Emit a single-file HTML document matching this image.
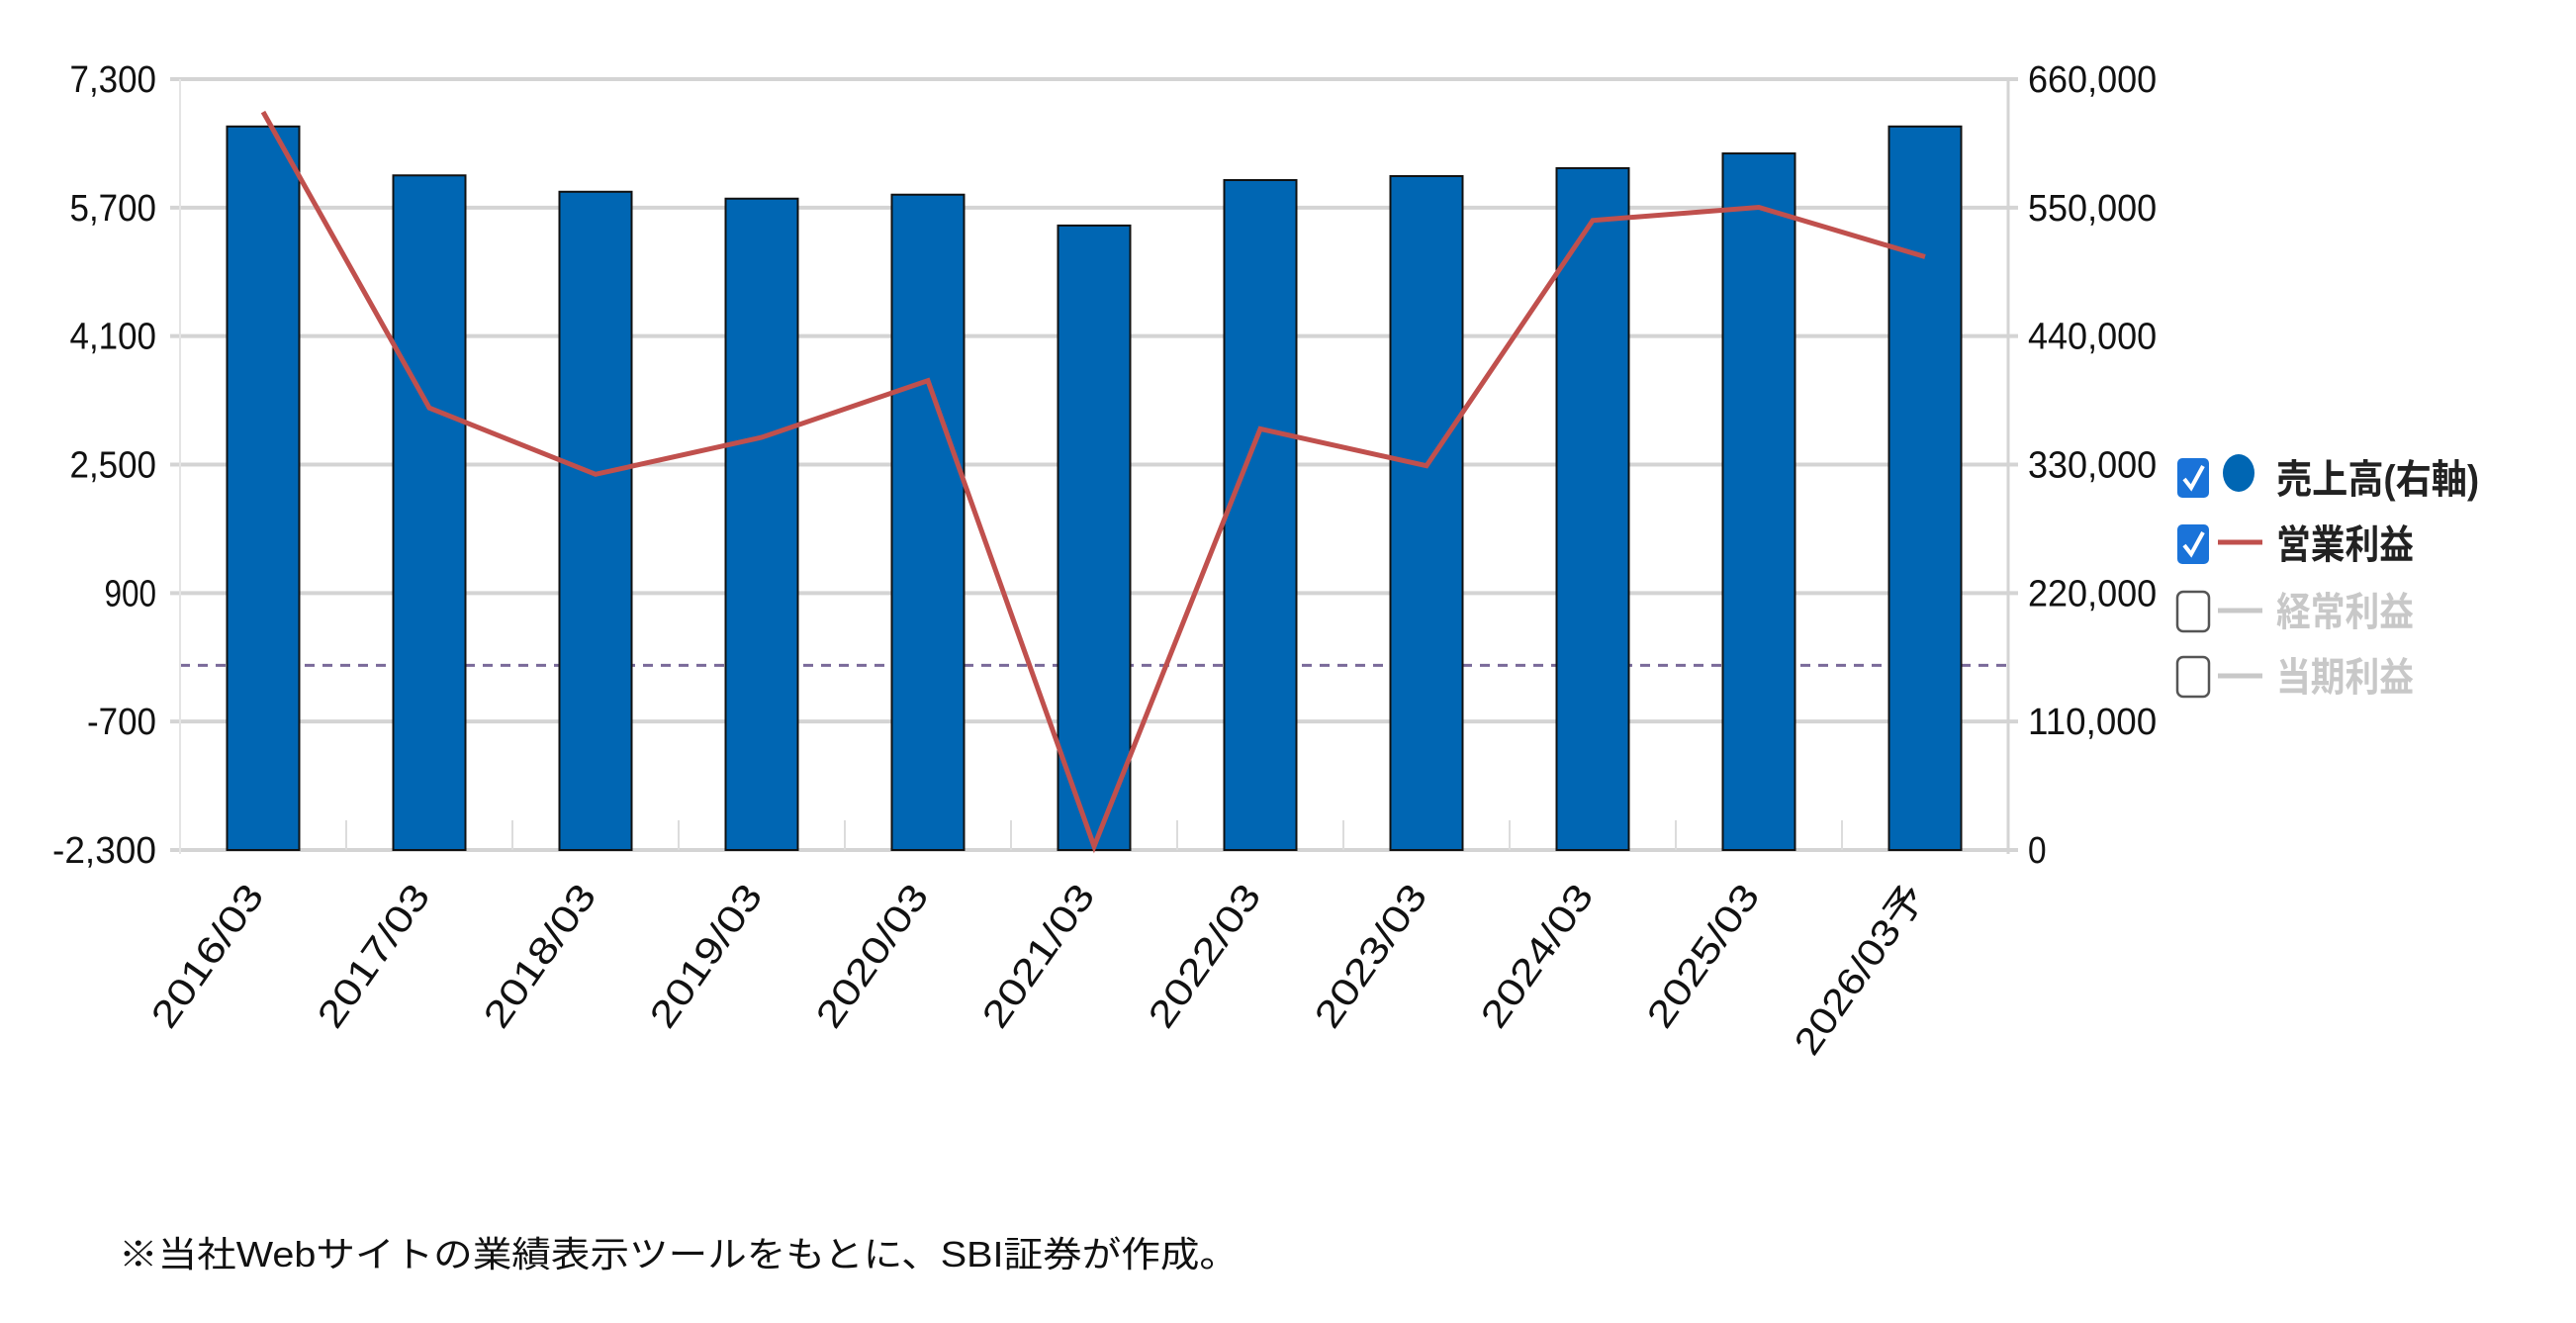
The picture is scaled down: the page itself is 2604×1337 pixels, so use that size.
<!DOCTYPE html>
<html><head><meta charset="utf-8">
<style>
html,body{margin:0;padding:0;background:#fff;}
svg{display:block;font-family:"Liberation Sans","Noto Sans CJK JP",sans-serif;}
</style></head>
<body>
<svg id="chart" width="2604" height="1337" viewBox="0 0 2604 1337" xmlns="http://www.w3.org/2000/svg">
<g id="grid"></g>
<g id="bars"></g>
<g id="line"></g>
<g id="axes"></g>
<g id="legend">
  <g>
    <rect x="2201" y="463" width="32" height="40" rx="5" fill="#1a73d9"/>
    <path d="M2208 484 l7 9 l12 -22" stroke="#fff" stroke-width="4" fill="none"/>
    <ellipse cx="2263" cy="478" rx="16" ry="19" fill="#0066b3"/>
    <text x="2301" y="498" font-size="40" font-weight="bold" fill="#222" textLength="205" lengthAdjust="spacingAndGlyphs">売上高(右軸)</text>
  </g>
  <g>
    <rect x="2201" y="530" width="32" height="40" rx="5" fill="#1a73d9"/>
    <path d="M2208 551 l7 9 l12 -22" stroke="#fff" stroke-width="4" fill="none"/>
    <line x1="2242" y1="548" x2="2287" y2="548" stroke="#c0504d" stroke-width="5"/>
    <text x="2301" y="564" font-size="40" font-weight="bold" fill="#222" textLength="139" lengthAdjust="spacingAndGlyphs">営業利益</text>
  </g>
  <g>
    <rect x="2201" y="598" width="32" height="40" rx="6" fill="#fff" stroke="#555" stroke-width="2.5"/>
    <line x1="2242" y1="617" x2="2287" y2="617" stroke="#c8c8c8" stroke-width="5"/>
    <text x="2301" y="632" font-size="40" font-weight="bold" fill="#c8c8c8" textLength="139" lengthAdjust="spacingAndGlyphs">経常利益</text>
  </g>
  <g>
    <rect x="2201" y="664" width="32" height="40" rx="6" fill="#fff" stroke="#555" stroke-width="2.5"/>
    <line x1="2242" y1="683" x2="2287" y2="683" stroke="#c8c8c8" stroke-width="5"/>
    <text x="2301" y="698" font-size="40" font-weight="bold" fill="#c8c8c8" textLength="139" lengthAdjust="spacingAndGlyphs">当期利益</text>
  </g>
</g>
<text x="120" y="1280" font-size="36" fill="#111" textLength="1132" lengthAdjust="spacingAndGlyphs">※当社Webサイトの業績表示ツールをもとに、SBI証券が作成。</text>
</svg>
<script>
const categories = ["2016/03","2017/03","2018/03","2019/03","2020/03","2021/03","2022/03","2023/03","2024/03","2025/03","2026/03予"];
const salesValues = [619500,577600,563600,557700,561100,534700,573600,577000,583800,596400,619500];
const opProfitValues = [6892,3206,2379,2839,3546,-2254,2945,2485,5541,5704,5088];
const leftTicks = [-2300,-700,900,2500,4100,5700,7300];
const leftTickLabels = ["-2,300","-700","900","2,500","4,100","5,700","7,300"];
const rightTicks = [0,110000,220000,330000,440000,550000,660000];
const rightTickLabels = ["0","110,000","220,000","330,000","440,000","550,000","660,000"];

const NS = "http://www.w3.org/2000/svg";
const X0 = 182, X1 = 2030, YT = 80, YB = 859;
const LMIN = -2300, LMAX = 7300, RMIN = 0, RMAX = 660000;
const band = (X1 - X0) / categories.length;
function xC(i){ return X0 + band * (i + 0.5); }
function yL(v){ return YB - (v - LMIN) / (LMAX - LMIN) * (YB - YT); }
function yR(v){ return YB - (v - RMIN) / (RMAX - RMIN) * (YB - YT); }
function mk(tag, attrs, parent){
  const e = document.createElementNS(NS, tag);
  for (const k in attrs) e.setAttribute(k, attrs[k]);
  parent.appendChild(e);
  return e;
}
const grid = document.getElementById('grid');
const axes = document.getElementById('axes');
const barsG = document.getElementById('bars');
const lineG = document.getElementById('line');

leftTicks.forEach((t, i) => {
  const y = yL(t);
  const gl = mk('line', {x1: X0 - 10, x2: X1 + 10, y1: y, y2: y, stroke: '#d4d4d4', 'stroke-width': 4}, grid);
  
  
  const lt = mk('text', {x: 158, y: y + 13, 'font-size': 38, 'text-anchor': 'end', fill: '#111'}, axes);
  
  
  lt.textContent = leftTickLabels[i];
  const w = leftTickLabels[i].length * 17.5;
  lt.setAttribute('textLength', w);
  lt.setAttribute('lengthAdjust', 'spacingAndGlyphs');
});
rightTicks.forEach((t, i) => {
  const y = yR(t);
  const rt = mk('text', {x: 2050, y: y + 13, 'font-size': 38, fill: '#111'}, axes);
  
  
  rt.textContent = rightTickLabels[i];
  rt.setAttribute('textLength', rightTickLabels[i].length * 18.6);
  rt.setAttribute('lengthAdjust', 'spacingAndGlyphs');
});
// zero reference line
const zl = mk('line', {x1: X0, x2: X1, y1: yL(0), y2: yL(0), stroke: '#7a6a9a', 'stroke-width': 3, 'stroke-dasharray': '10 8'}, grid);


// axis frame lines
const ra = mk('line', {x1: X1, x2: X1, y1: YT, y2: YB + 4, stroke: '#d4d4d4', 'stroke-width': 3}, axes);


const la = mk('line', {x1: X0, x2: X0, y1: YT, y2: YB + 4, stroke: '#e4e4e4', 'stroke-width': 2}, axes);


for (let i = 1; i < categories.length; i++) {
  const tk = mk('line', {x1: X0 + band * i, x2: X0 + band * i, y1: YB - 30, y2: YB, stroke: '#dcdcdc', 'stroke-width': 2}, axes);
  
  
}
const bw = 73;
salesValues.forEach((v, i) => {
  const y = yR(v);
  const b = mk('rect', {x: xC(i) - bw / 2, y: y, width: bw, height: YB - y, fill: '#0066b3', stroke: '#111', 'stroke-width': 2}, barsG);
  
  
});
const pts = opProfitValues.map((v, i) => xC(i) + ',' + yL(v)).join(' ');
const pl = mk('polyline', {points: pts, fill: 'none', stroke: '#c0504d', 'stroke-width': 5, 'stroke-linejoin': 'miter'}, lineG);


categories.forEach((c, i) => {
  const x = xC(i) + 2, y = 905;
  const t = mk('text', {x: x, y: y, 'font-size': 38, 'text-anchor': 'end', fill: '#111', transform: 'rotate(-55 ' + x + ' ' + y + ')'}, axes);
  
  
  t.textContent = c;
  t.setAttribute('textLength', c.length === 7 ? 167 : 200);
  t.setAttribute('lengthAdjust', 'spacingAndGlyphs');
});
</script>
</body></html>
